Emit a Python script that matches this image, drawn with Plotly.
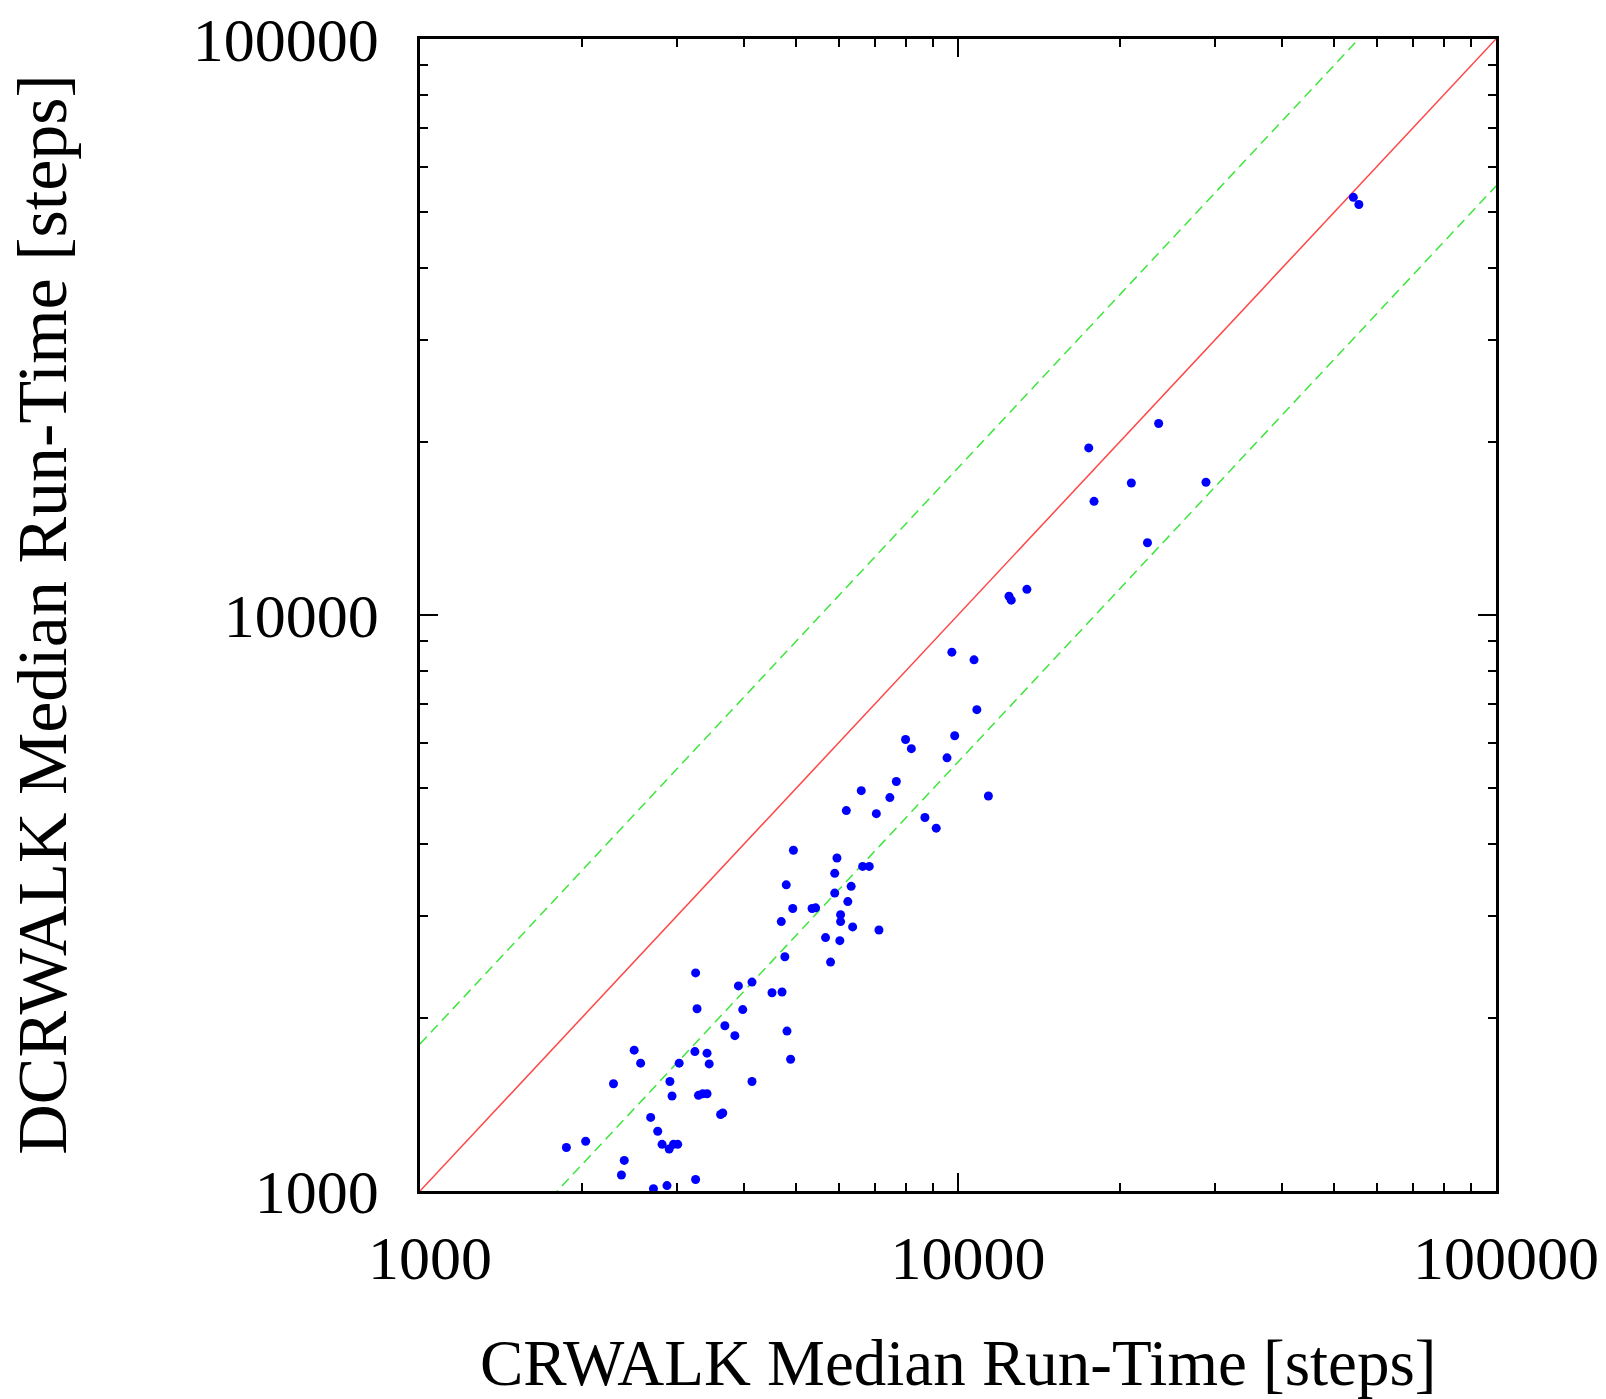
import plotly.graph_objects as go

# CRWALK median run-time (x) vs DCRWALK median run-time (y), in steps
crwalk_steps = [54300, 55600, 23600, 17500, 21000, 28900, 17900, 22500, 13430, 12440,
                12560, 9740, 10710, 10840, 7990, 9860, 8190, 9540, 11390, 6610,
                7680, 7470, 6200, 7050, 8680, 9110, 4944, 5957, 5900, 4795,
                6330, 6650, 6840, 5900, 6240, 4930, 5355, 5437, 6050, 4694,
                6050, 6370, 7130, 5673, 6030, 4766, 5796, 3253, 4141, 3907,
                4511, 4709, 3273, 3980, 3687, 4810, 3848, 2501, 3243, 3416,
                2571, 3032, 3448, 4885, 2289, 2914, 4141, 2941, 3293, 3354,
                3416, 3620, 3654, 2684, 2766, 1871, 2032, 2818, 2905, 2959,
                3013, 2397, 2368, 3253, 2716, 2878]
dcrwalk_steps = [53100, 51600, 21500, 19500, 16950, 17000, 15750, 13350, 11080, 10780,
                 10610, 8620, 8360, 6850, 6080, 6170, 5860, 5650, 4850, 4955,
                 5140, 4820, 4575, 4520, 4450, 4265, 3904, 3785, 3560, 3400,
                 3380, 3660, 3660, 3290, 3180, 3093, 3093, 3102, 3018, 2936,
                 2936, 2874, 2839, 2754, 2720, 2551, 2497, 2391, 2305, 2270,
                 2209, 2216, 2072, 2065, 1936, 1895, 1861, 1756, 1746, 1735,
                 1667, 1667, 1662, 1693, 1535, 1549, 1549, 1462, 1466, 1475,
                 1475, 1358, 1366, 1342, 1270, 1190, 1220, 1205, 1183, 1205,
                 1205, 1130, 1066, 1047, 1009, 1022]

# reference lines: y = x and y = x * / factor
line_x = [1000, 100000]
band_factor = 1.8

major_ticks = [1000, 10000, 100000]
major_labels = ["1000", "10000", "100000"]
minor_ticks = [2000, 3000, 4000, 5000, 6000, 7000, 8000, 9000,
               20000, 30000, 40000, 50000, 60000, 70000, 80000, 90000]

x_title = "CRWALK Median Run-Time [steps]"
y_title = "DCRWALK Median Run-Time [steps]"

FONT = "Liberation Serif, Times New Roman, serif"

fig = go.Figure()

fig.add_trace(go.Scatter(
    x=line_x, y=[v * band_factor for v in line_x], mode="lines",
    line=dict(color="rgb(60,230,60)", width=1.5, dash="10px,6px"),
    showlegend=False, hoverinfo="skip"))
fig.add_trace(go.Scatter(
    x=line_x, y=[v / band_factor for v in line_x], mode="lines",
    line=dict(color="rgb(60,230,60)", width=1.5, dash="10px,6px"),
    showlegend=False, hoverinfo="skip"))
fig.add_trace(go.Scatter(
    x=line_x, y=line_x, mode="lines",
    line=dict(color="rgb(255,70,70)", width=1.5),
    showlegend=False, hoverinfo="skip"))
fig.add_trace(go.Scatter(
    x=crwalk_steps, y=dcrwalk_steps, mode="markers",
    marker=dict(color="rgb(0,0,255)", size=9, line=dict(width=0)),
    cliponaxis=False, showlegend=False))

axis_common = dict(
    type="log", range=[3, 5],
    showgrid=False, zeroline=False,
    showline=True, linecolor="black", linewidth=2.5, mirror="ticks",
    ticks="inside", ticklen=18, tickwidth=2, tickcolor="black",
    tickmode="array", tickvals=major_ticks, ticktext=major_labels,
    minor=dict(ticks="inside", ticklen=8, tickwidth=2, tickcolor="black",
               tickmode="array", tickvals=minor_ticks, showgrid=False),
    tickfont=dict(family=FONT, size=62, color="black"),
)

fig.update_xaxes(**axis_common, ticklabelstandoff=11, ticklabelshift=10)
fig.update_yaxes(**axis_common, ticklabelstandoff=26)

fig.update_layout(
    width=1606, height=1399,
    margin=dict(l=420, r=110, t=39, b=208, autoexpand=False),
    paper_bgcolor="white", plot_bgcolor="white",
    font=dict(family=FONT, color="black"),
    annotations=[
        dict(text=x_title, xref="paper", yref="paper", x=0.5, y=-0.1493,
             xanchor="center", yanchor="middle", showarrow=False,
             font=dict(family=FONT, size=65, color="black")),
        dict(text=y_title, xref="paper", yref="paper", x=-0.3516, y=0.5,
             xanchor="center", yanchor="middle", textangle=-90, showarrow=False,
             font=dict(family=FONT, size=70, color="black")),
    ],
)

fig.write_html("out.html", config={"displayModeBar": False},
               post_script="document.body.style.margin='0px';document.body.style.overflow='hidden';")
